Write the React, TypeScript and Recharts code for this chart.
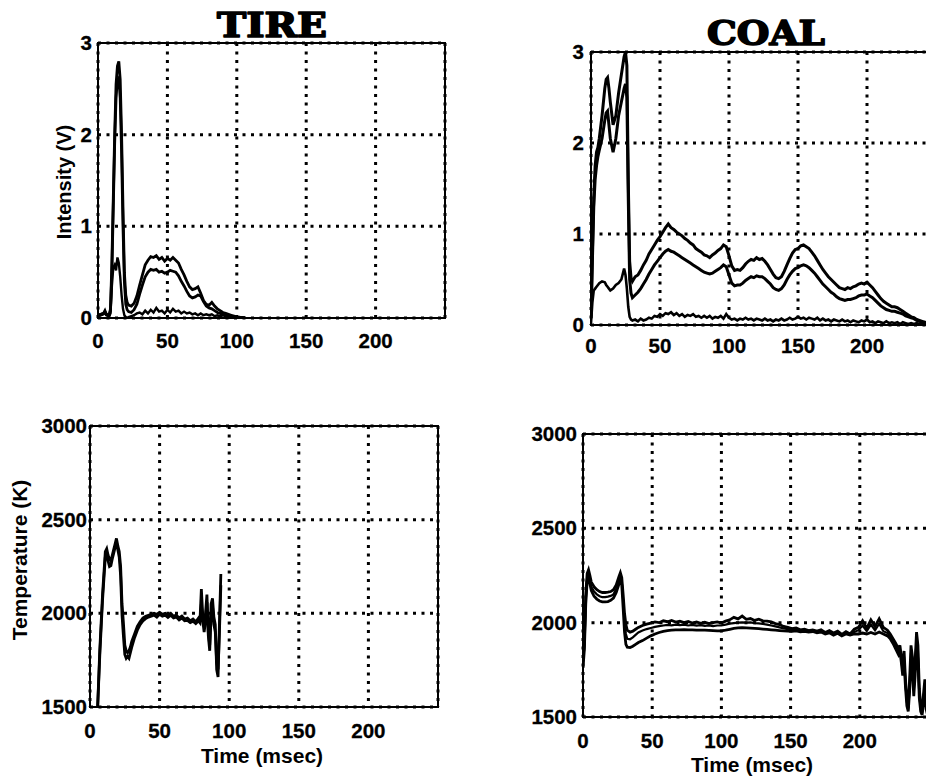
import React from "react";
import { LineChart, Line, XAxis, YAxis, CartesianGrid } from "recharts";

// ---------- axis ticks ----------
const X_TICKS = [0, 50, 100, 150, 200];
const INTENSITY_TICKS = [0, 1, 2, 3];
const TEMP_TICKS = [1500, 2000, 2500, 3000];

// ---------- TIRE intensity (V) ----------
const TIRE_INT_T = [0, 2, 4, 5, 6, 8, 9, 10, 11, 12, 13, 14, 15, 16, 17, 18, 19, 20, 21, 22,
  24, 26, 28, 30, 32, 34, 36, 38, 40, 42, 44, 46, 48, 50, 52, 54, 56, 58, 60, 62,
  64, 66, 68, 70, 72, 74, 76, 78, 80, 82, 84, 86, 88, 90, 92, 94, 96, 98, 100, 102, 104, 106];
const TIRE_INT_A = [0.03, 0.04, 0.05, 0.08, 0.04, 0.03, 0.1, 0.6, 1.3, 2.0, 2.55, 2.75, 2.8, 2.6, 2.0, 1.2, 0.5, 0.25, 0.17, 0.14,
  0.13, 0.16, 0.24, 0.36, 0.47, 0.58, 0.63, 0.67, 0.66, 0.68, 0.64, 0.66, 0.62, 0.65, 0.63, 0.66, 0.63, 0.6, 0.53, 0.47,
  0.4, 0.34, 0.31, 0.32, 0.34, 0.27, 0.19, 0.15, 0.14, 0.17, 0.13, 0.1, 0.08, 0.06, 0.05, 0.04, 0.03, 0.02, 0.01, 0.01, 0, 0];
const TIRE_INT_B = [0.03, 0.04, 0.05, 0.07, 0.04, 0.03, 0.08, 0.5, 1.2, 1.9, 2.4, 2.6, 2.62, 2.4, 1.8, 1.0, 0.4, 0.15, 0.09, 0.07,
  0.06, 0.09, 0.15, 0.26, 0.36, 0.45, 0.5, 0.53, 0.52, 0.53, 0.5, 0.51, 0.49, 0.5, 0.52, 0.51, 0.5, 0.46, 0.4, 0.35,
  0.29, 0.24, 0.22, 0.23, 0.25, 0.24, 0.18, 0.13, 0.11, 0.1, 0.08, 0.06, 0.05, 0.04, 0.03, 0.02, 0.01, 0.01, 0, 0, 0, 0];
const TIRE_INT_C = [0.02, 0.03, 0.04, 0.06, 0.03, 0.02, 0.05, 0.35, 0.55, 0.58, 0.52, 0.66, 0.6, 0.45, 0.25, 0.1, 0.03, 0.01, 0, 0.01,
  0.02, 0.03, 0.05, 0.06, 0.04, 0.08, 0.05, 0.09, 0.06, 0.11, 0.07, 0.08, 0.05, 0.09, 0.06, 0.1, 0.07, 0.08, 0.05, 0.07,
  0.05, 0.06, 0.04, 0.05, 0.03, 0.05, 0.03, 0.04, 0.03, 0.04, 0.02, 0.03, 0.02, 0.03, 0.02, 0.02, 0.01, 0.02, 0.01, 0.01, 0.01, 0];

// ---------- COAL intensity (V) ----------
const COAL_INT_T = [0, 1, 2, 3, 4, 5, 6, 8, 10, 11, 12, 13, 14, 16, 18, 20, 22, 24, 25, 26, 27, 28, 29, 30,
  32, 34, 36, 38, 40, 42, 44, 46, 48, 50,
  52, 54, 56, 58, 60, 62, 64, 66, 68, 70,
  72, 74, 76, 78, 80, 82, 84, 86, 88, 90,
  92, 94, 96, 98, 100, 102, 104, 106, 108, 110,
  112, 114, 116, 118, 120, 122, 124, 126, 128, 130,
  132, 134, 136, 138, 140, 142, 144, 146, 148, 150,
  152, 154, 156, 158, 160, 162, 164, 166, 168, 170,
  172, 174, 176, 178, 180, 182, 184, 186, 188, 190,
  192, 194, 196, 198, 200, 202, 204, 206, 208, 210,
  212, 214, 216, 218, 220, 222, 224, 226, 228, 230,
  232, 234, 236, 238, 240, 242, 244, 246, 248, 250];
const COAL_INT_A = [0.1, 0.8, 1.4, 1.75, 1.9, 1.95, 2.05, 2.3, 2.6, 2.7, 2.72, 2.6, 2.45, 2.2, 2.3, 2.55, 2.75, 2.95, 3.0, 2.85, 1.6, 0.7, 0.52, 0.48,
  0.53, 0.55, 0.6, 0.66, 0.71, 0.78, 0.83, 0.88, 0.93, 0.97,
  1.02, 1.07, 1.11, 1.07, 1.05, 1.02, 1.0, 0.98, 0.95, 0.93,
  0.9, 0.88, 0.84, 0.82, 0.8, 0.77, 0.76, 0.74, 0.77, 0.79,
  0.82, 0.84, 0.88, 0.86, 0.76, 0.65, 0.6, 0.61, 0.6, 0.63,
  0.67, 0.7, 0.72, 0.71, 0.74, 0.72, 0.73, 0.7, 0.66, 0.61,
  0.56, 0.52, 0.51, 0.53, 0.59, 0.66, 0.73, 0.79, 0.83, 0.84,
  0.87, 0.88, 0.86, 0.84, 0.8, 0.76, 0.71, 0.66, 0.61, 0.57,
  0.53, 0.5, 0.47, 0.44, 0.41, 0.4, 0.39, 0.41, 0.4, 0.42,
  0.43, 0.45, 0.46, 0.45, 0.47, 0.44, 0.41, 0.37, 0.33, 0.29,
  0.26, 0.24, 0.22, 0.2, 0.2, 0.19, 0.17, 0.15, 0.13, 0.11,
  0.09, 0.08, 0.06, 0.05, 0.04, 0.03, 0.02, 0.01, 0.01, 0];
const COAL_INT_B = [0.08, 0.7, 1.3, 1.6, 1.75, 1.85, 1.92, 2.05, 2.25, 2.33, 2.35, 2.2, 2.05, 1.9, 2.05, 2.3, 2.45, 2.6, 2.65, 2.5, 1.4, 0.5, 0.35, 0.3,
  0.33, 0.36, 0.4, 0.45, 0.5, 0.56, 0.61, 0.66, 0.7, 0.74,
  0.78, 0.81, 0.83, 0.81, 0.8, 0.78, 0.76, 0.74, 0.72, 0.7,
  0.68, 0.66, 0.64, 0.62, 0.6, 0.58, 0.57, 0.56, 0.57, 0.59,
  0.61, 0.63, 0.66, 0.64, 0.55, 0.46, 0.43, 0.44, 0.44, 0.46,
  0.49, 0.51, 0.53, 0.52, 0.54, 0.53, 0.53, 0.51, 0.48, 0.45,
  0.41, 0.39, 0.38, 0.4, 0.44, 0.5, 0.55, 0.59, 0.62, 0.63,
  0.65, 0.66, 0.65, 0.63, 0.6, 0.57, 0.53, 0.49, 0.45, 0.42,
  0.39, 0.36, 0.34, 0.31, 0.29, 0.28, 0.27, 0.28, 0.28, 0.29,
  0.3, 0.32, 0.33, 0.33, 0.34, 0.32, 0.3, 0.27, 0.24, 0.21,
  0.19, 0.17, 0.16, 0.15, 0.15, 0.14, 0.13, 0.12, 0.1, 0.09,
  0.08, 0.07, 0.05, 0.04, 0.03, 0.02, 0.02, 0.01, 0, 0];
const COAL_INT_C = [0.02, 0.25, 0.38, 0.4, 0.42, 0.44, 0.46, 0.48, 0.47, 0.44, 0.42, 0.4, 0.38, 0.4, 0.44, 0.46, 0.5, 0.62, 0.55, 0.4, 0.2, 0.09, 0.06, 0.05,
  0.06, 0.04, 0.07, 0.05, 0.06, 0.08, 0.07, 0.1, 0.09, 0.12,
  0.1, 0.13, 0.12, 0.14, 0.11, 0.13, 0.1, 0.12, 0.09, 0.11,
  0.1, 0.12, 0.09, 0.1, 0.08, 0.1, 0.08, 0.1, 0.07, 0.09,
  0.08, 0.1, 0.07, 0.12, 0.08, 0.06, 0.07, 0.05, 0.07, 0.06,
  0.08, 0.06, 0.07, 0.05, 0.07, 0.06, 0.05, 0.07, 0.05, 0.06,
  0.04, 0.06, 0.05, 0.07, 0.05, 0.06, 0.08, 0.06, 0.07, 0.09,
  0.07, 0.08, 0.06, 0.08, 0.07, 0.06, 0.08, 0.05, 0.07, 0.05,
  0.06, 0.04, 0.06, 0.05, 0.04, 0.06, 0.04, 0.05, 0.03, 0.05,
  0.04, 0.03, 0.05, 0.04, 0.06, 0.03, 0.04, 0.02, 0.04, 0.03,
  0.02, 0.04, 0.02, 0.03, 0.02, 0.03, 0.01, 0.03, 0.02, 0.01,
  0.02, 0.01, 0.02, 0.01, 0.01, 0.02, 0.01, 0.01, 0, 0];

// ---------- TIRE temperature (K) ----------
const TIRE_TEMP_T = [5.5, 7, 9, 11, 12, 13, 14, 15, 16, 17, 18, 19, 20, 21, 22, 23, 24, 25, 26, 27, 28, 29, 30,
  32, 34, 36, 38, 40, 42, 44, 46, 48, 50, 52, 54, 56, 58, 60, 62, 64, 66, 68, 70, 72, 74, 76, 78,
  79, 80, 81, 82, 83, 84, 85, 86, 87, 88, 89, 90, 91, 92, 93, 94];
const TIRE_TEMP_A = [1500, 1800, 2100, 2330, 2345, 2310, 2290, 2280, 2310, 2340, 2370, 2400, 2360, 2330, 2250, 2050, 1950, 1830, 1800, 1790, 1800, 1820, 1850,
  1890, 1930, 1955, 1975, 1985, 1990, 1995, 2000, 1995, 2005, 1995, 2000, 1990, 2000, 1985, 1990, 1975, 1985, 1970, 1975, 1960, 1970, 1955, 1975,
  1960, 2130, 1990, 1930, 2000, 2100, 1900, 1830, 2050, 2080, 1980, 1940, 1700, 1660, 1950, 2210];
const TIRE_TEMP_B = [1500, 1770, 2070, 2300, 2320, 2280, 2250, 2255, 2290, 2320, 2350, 2380, 2340, 2300, 2200, 1990, 1880, 1780, 1760, 1770, 1760, 1790, 1820,
  1870, 1910, 1940, 1960, 1972, 1980, 1985, 1990, 1980, 1995, 1985, 1990, 1978, 1990, 1975, 1980, 1965, 1975, 1960, 1962, 1950, 1958, 1945, 1960,
  1950, 2050, 1960, 1900, 1960, 2060, 1880, 1800, 1990, 2040, 1940, 1900, 1740, 1700, 1900, 2150];

// ---------- COAL temperature (K) ----------
const COAL_TEMP_T = [0, 1, 2, 3, 4, 5, 6, 8, 10, 12, 14, 16, 18, 20, 22, 24, 26, 27, 28, 29, 30, 31, 32, 34, 36, 38, 40,
  43, 46, 49, 52, 55, 58, 61, 64, 67, 70,
  73, 76, 79, 82, 85, 88, 91, 94, 97, 100,
  103, 106, 109, 112, 115, 118, 121, 124, 127, 130,
  133, 136, 139, 142, 145, 148, 151, 154, 157, 160,
  163, 166, 169, 172, 175, 178, 181, 184, 187, 190,
  193, 196, 199, 202, 205, 208, 211, 214, 217, 220,
  222, 224, 226, 228, 229, 230, 231, 232, 233, 234, 235, 236, 237, 238, 239, 240, 241, 242, 243, 244, 245, 246, 247, 248, 249, 250];
const COAL_TEMP_HIGH = [1800, 1900, 2150, 2260, 2280, 2250, 2215, 2190, 2175, 2165, 2160, 2160, 2162, 2165, 2175, 2200, 2245, 2265, 2240, 2150, 2050, 1990, 1960, 1950, 1955, 1965, 1975,
  1985, 1992, 1998, 2004, 2000, 2010, 2005, 2012, 2003, 2008,
  2000, 2006, 1998, 2004, 1996, 2002, 1995, 2000, 2004, 1998,
  2008, 2015, 2028, 2020, 2035, 2018, 2022, 2012, 2018, 2010,
  2008, 2004, 1995, 1990, 1980, 1975, 1968, 1972, 1962, 1965,
  1958, 1962, 1955, 1962, 1948, 1958, 1945, 1955, 1938, 1952,
  1940, 1965, 1975, 2010, 1970, 2015, 1980, 2020, 1975, 1960,
  1940, 1915, 1890, 1860, 1880, 1820, 1760, 1850, 1700, 1600, 1550, 1700, 1880, 1820, 1680, 1800, 1950, 1880, 1650, 1560, 1530, 1620, 1700, 1580, 1540, 1560];
const COAL_TEMP_MID = [1780, 1880, 2120, 2240, 2255, 2225, 2190, 2165, 2150, 2140, 2135, 2135, 2138, 2142, 2150, 2178, 2222, 2245, 2220, 2120, 2000, 1940, 1915, 1912, 1922, 1935, 1948,
  1958, 1966, 1972, 1978, 1982, 1985, 1988, 1986, 1990, 1987,
  1990, 1985, 1988, 1984, 1987, 1983, 1986, 1982, 1985, 1986,
  1990, 1995, 1998, 2000, 2002, 2000, 2001, 1998, 1996, 1993,
  1990, 1985, 1980, 1975, 1970, 1966, 1962, 1965, 1958, 1960,
  1955, 1958, 1950, 1956, 1945, 1952, 1940, 1950, 1935, 1946,
  1942, 1950, 1960, 1985, 1955, 1990, 1960, 1995, 1955, 1945,
  1925, 1900, 1870, 1845, 1860, 1800, 1740, 1820, 1680, 1580, 1540, 1660, 1840, 1780, 1640, 1760, 1920, 1850, 1620, 1540, 1520, 1590, 1680, 1560, 1520, 1540];
const COAL_TEMP_LOW = [1760, 1860, 2100, 2220, 2235, 2205, 2170, 2140, 2125, 2115, 2110, 2110, 2112, 2118, 2130, 2160, 2205, 2228, 2200, 2080, 1950, 1885, 1870, 1868, 1875, 1885, 1895,
  1905, 1918, 1930, 1940, 1948, 1954, 1958, 1960, 1962, 1962,
  1963, 1962, 1962, 1961, 1960, 1960, 1959, 1958, 1956, 1956,
  1960, 1965, 1970, 1972, 1973, 1972, 1971, 1970, 1968, 1966,
  1964, 1962, 1960, 1958, 1956, 1955, 1954, 1956, 1952, 1954,
  1950, 1953, 1946, 1950, 1940, 1946, 1934, 1944, 1930, 1940,
  1934, 1940, 1940, 1945, 1940, 1948, 1940, 1950, 1940, 1930,
  1915, 1890, 1860, 1830, 1845, 1790, 1720, 1790, 1660, 1560, 1530, 1640, 1800, 1740, 1610, 1720, 1880, 1800, 1600, 1530, 1510, 1570, 1650, 1540, 1510, 1520];

// ---------- helpers ----------
const FONT = '"Liberation Sans", Arial, Helvetica, sans-serif';
const pts = (t: number[], v: number[]) => t.map((x, i) => ({ t: x, v: v[i] }));

type SeriesDef = { data: { t: number; v: number }[]; w: number };
type PanelProps = {
  plotLeft: number;
  plotTop: number;
  plotW: number;
  plotH: number;
  yDomain: [number, number];
  yTicks: number[];
  xDy: number;
  yGap: number;
  series: SeriesDef[];
};

function Panel(p: PanelProps) {
  const YW = 70;
  const MR = 14;
  const MT = 22;
  const XH = 48;
  const W = p.plotW + YW + MR;
  const H = p.plotH + MT + XH;
  const XTick = (props: any) => (
    <text x={props.x} y={props.y + p.xDy} textAnchor="middle" fontFamily={FONT} fontWeight="bold" fontSize={20.5} fill="#000" stroke="#000" strokeWidth={0.3}>
      {props.payload.value}
    </text>
  );
  const YTick = (props: any) => (
    <text x={props.x - p.yGap} y={props.y + 7} textAnchor="end" fontFamily={FONT} fontWeight="bold" fontSize={20.5} fill="#000" stroke="#000" strokeWidth={0.3}>
      {props.payload.value}
    </text>
  );
  return (
    <div style={{ position: "absolute", left: p.plotLeft - YW, top: p.plotTop - MT, width: W, height: H }}>
      <LineChart width={W} height={H} margin={{ top: MT, right: MR, bottom: 0, left: 0 }}>
        <CartesianGrid stroke="#000" strokeWidth={3} strokeDasharray="3 5.5" />
        <XAxis
          type="number"
          dataKey="t"
          domain={[0, 250]}
          ticks={X_TICKS}
          interval={0}
          allowDataOverflow
          axisLine={false}
          tickLine={false}
          tickSize={0}
          tickMargin={0}
          height={XH}
          tick={XTick}
        />
        <YAxis
          type="number"
          domain={p.yDomain}
          ticks={p.yTicks}
          interval={0}
          allowDataOverflow
          axisLine={false}
          tickLine={false}
          tickSize={0}
          tickMargin={0}
          width={YW}
          tick={YTick}
        />
        {p.series.map((s, i) => (
          <Line
            key={i}
            data={s.data}
            dataKey="v"
            type="linear"
            stroke="#000"
            strokeWidth={s.w}
            dot={false}
            activeDot={false}
            isAnimationActive={false}
          />
        ))}
      </LineChart>
      <div
        style={{
          position: "absolute",
          left: YW - 1,
          top: MT - 1,
          width: p.plotW + 2,
          height: p.plotH + 2,
          border: "2px solid #000",
          boxSizing: "border-box",
          pointerEvents: "none",
        }}
      />
    </div>
  );
}

export default function App() {
  return (
    <div style={{ position: "absolute", left: 0, top: 0, width: 926, height: 777, overflow: "hidden", background: "#fff" }}>
      <Panel
        plotLeft={98}
        plotTop={43}
        plotW={347}
        plotH={275}
        yDomain={[0, 3]}
        yTicks={INTENSITY_TICKS}
        xDy={30}
        yGap={6}
        series={[
          { data: pts(TIRE_INT_T, TIRE_INT_A), w: 2.8 },
          { data: pts(TIRE_INT_T, TIRE_INT_B), w: 2.8 },
          { data: pts(TIRE_INT_T, TIRE_INT_C), w: 2.4 },
        ]}
      />
      <Panel
        plotLeft={591}
        plotTop={52}
        plotW={345}
        plotH={273}
        yDomain={[0, 3]}
        yTicks={INTENSITY_TICKS}
        xDy={28}
        yGap={7}
        series={[
          { data: pts(COAL_INT_T, COAL_INT_A), w: 3 },
          { data: pts(COAL_INT_T, COAL_INT_B), w: 3 },
          { data: pts(COAL_INT_T, COAL_INT_C), w: 2.6 },
        ]}
      />
      <Panel
        plotLeft={90}
        plotTop={426}
        plotW={348}
        plotH={281}
        yDomain={[1500, 3000]}
        yTicks={TEMP_TICKS}
        xDy={31}
        yGap={3}
        series={[
          { data: pts(TIRE_TEMP_T, TIRE_TEMP_A), w: 2.8 },
          { data: pts(TIRE_TEMP_T, TIRE_TEMP_B), w: 2.8 },
        ]}
      />
      <Panel
        plotLeft={583}
        plotTop={434}
        plotW={346}
        plotH={283}
        yDomain={[1500, 3000]}
        yTicks={TEMP_TICKS}
        xDy={31}
        yGap={6}
        series={[
          { data: pts(COAL_TEMP_T, COAL_TEMP_HIGH), w: 2.8 },
          { data: pts(COAL_TEMP_T, COAL_TEMP_MID), w: 2.2 },
          { data: pts(COAL_TEMP_T, COAL_TEMP_LOW), w: 2.8 },
        ]}
      />
      <svg width={926} height={777} style={{ position: "absolute", left: 0, top: 0, pointerEvents: "none" }}>
        <text x={272} y={37} textAnchor="middle" fontFamily='"DejaVu Serif", serif' fontWeight="bold" fontSize={33} textLength={110} lengthAdjust="spacingAndGlyphs" fill="#000" stroke="#000" strokeWidth={1.6} strokeLinejoin="round">
          TIRE
        </text>
        <text x={766} y={45} textAnchor="middle" fontFamily='"DejaVu Serif", serif' fontWeight="bold" fontSize={34} textLength={118} lengthAdjust="spacingAndGlyphs" fill="#000" stroke="#000" strokeWidth={1.6} strokeLinejoin="round">
          COAL
        </text>
        <text x={71} y={182} transform="rotate(-90 71 182)" textAnchor="middle" fontFamily={FONT} fontWeight="bold" fontSize={20} fill="#000">
          Intensity (V)
        </text>
        <text x={27} y={560} transform="rotate(-90 27 560)" textAnchor="middle" fontFamily={FONT} fontWeight="bold" fontSize={21} fill="#000">
          Temperature (K)
        </text>
        <text x={262} y={763} textAnchor="middle" fontFamily={FONT} fontWeight="bold" fontSize={21} fill="#000">
          Time (msec)
        </text>
        <text x={752} y={772} textAnchor="middle" fontFamily={FONT} fontWeight="bold" fontSize={21} fill="#000">
          Time (msec)
        </text>
      </svg>
    </div>
  );
}
